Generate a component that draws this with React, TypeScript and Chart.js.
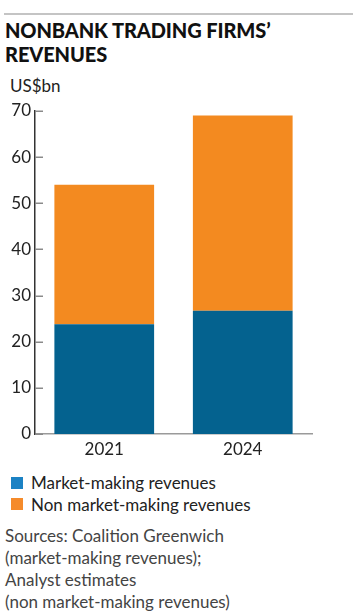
import React, { useEffect, useRef } from "react";
import { Chart, registerables } from "chart.js";

Chart.register(...registerables);

const categories = ["2021", "2024"];
const marketMaking = [23.8, 26.7];
const nonMarketMaking = [30.2, 42.3];
const yTicks = [0, 10, 20, 30, 40, 50, 60, 70];
const seriesNames = ["Market-making revenues", "Non market-making revenues"];
const barColors = ["#04628f", "#f38a20"];
const legendColors = ["#1c82c4", "#f58b2b"];
const title = ["NONBANK TRADING FIRMS’", "REVENUES"];
const unitLabel = "US$bn";
const sourceLines = [
  "Sources: Coalition Greenwich",
  "(market-making revenues);",
  "Analyst estimates",
  "(non market-making revenues)",
];

const FONT = "Lato, 'Open Sans', sans-serif";

const innerTicks = {
  id: "innerTicks",
  afterDraw(chart: any) {
    const y = chart.scales.y;
    const ctx = chart.ctx;
    const left = chart.chartArea.left;
    ctx.save();
    ctx.strokeStyle = "#8a8a8a";
    ctx.lineWidth = 1.5;
    y.ticks.forEach((t: any) => {
      const py = Math.round(y.getPixelForValue(t.value)) + 0.25;
      ctx.beginPath();
      ctx.moveTo(left, py);
      ctx.lineTo(left + 8, py);
      ctx.stroke();
    });
    ctx.restore();
  },
};

export default function App() {
  const ref = useRef<HTMLCanvasElement>(null);
  useEffect(() => {
    if (!ref.current) return;
    const chart = new Chart(ref.current, {
      type: "bar",
      data: {
        labels: categories,
        datasets: [
          { label: seriesNames[0], data: marketMaking, backgroundColor: barColors[0] },
          { label: seriesNames[1], data: nonMarketMaking, backgroundColor: barColors[1] },
        ],
      },
      options: {
        animation: false,
        responsive: false,
        maintainAspectRatio: false,
        layout: { padding: { top: 16, right: 41, left: 0, bottom: 0 } },
        datasets: { bar: { categoryPercentage: 0.72, barPercentage: 1 } },
        plugins: { legend: { display: false }, tooltip: { enabled: false } },
        scales: {
          x: {
            stacked: true,
            grid: { display: false, drawTicks: false },
            border: { display: true, color: "#9a9a9a", width: 1.5 },
            ticks: { color: "#222", font: { family: FONT, size: 17 }, padding: 5 },
            afterFit: (s: any) => { s.height = 31; },
          },
          y: {
            stacked: true,
            min: 0,
            max: 70,
            afterBuildTicks: (s: any) => { s.ticks = yTicks.map((v) => ({ value: v })); },
            grid: { display: false, drawTicks: false },
            border: { display: true, color: "#333", width: 1.5 },
            ticks: { color: "#222", font: { family: FONT, size: 17 }, padding: 4 },
            afterFit: (s: any) => { s.width = 35; },
          },
        },
      },
      plugins: [innerTicks],
    });
    return () => chart.destroy();
  }, []);

  return (
    <div style={{ position: "absolute", left: 0, top: 0, width: 353, height: 616, background: "#fff", fontFamily: FONT, color: "#222", overflow: "hidden" }}>
      <div style={{ position: "absolute", left: 4, right: 0, top: 13, height: 2, background: "#c4c4c4" }} />
      <div style={{ position: "absolute", left: 5, top: 19, fontWeight: 900, fontSize: 20, lineHeight: "23.5px", color: "#111", letterSpacing: -0.1 }}>
        {title.map((t) => <div key={t}>{t}</div>)}
      </div>
      <div style={{ position: "absolute", left: 10, top: 75, fontSize: 17 }}>{unitLabel}</div>
      <canvas ref={ref} width={353} height={370} style={{ position: "absolute", left: 0, top: 95, width: 353, height: 370 }} />
      {seriesNames.map((n, i) => (
        <div key={n} style={{ position: "absolute", left: 11, top: 472 + i * 21.5, height: 21, display: "flex", alignItems: "center", fontSize: 17 }}>
          <span style={{ display: "inline-block", width: 12, height: 12, background: legendColors[i], marginRight: 8 }} />
          <span>{n}</span>
        </div>
      ))}
      <div style={{ position: "absolute", left: 5, top: 525, fontSize: 17, lineHeight: "22px", color: "#444" }}>
        {sourceLines.map((t) => <div key={t}>{t}</div>)}
      </div>
    </div>
  );
}
